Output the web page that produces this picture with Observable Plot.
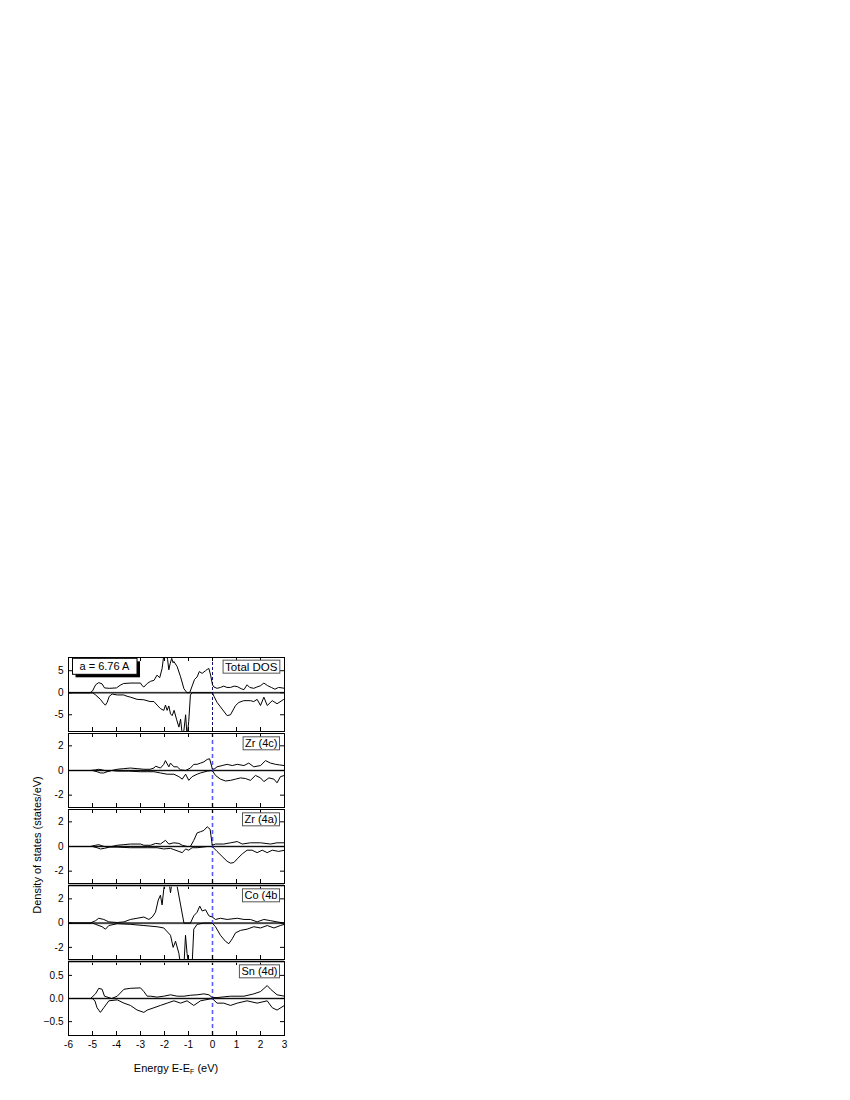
<!DOCTYPE html>
<html><head><meta charset="utf-8">
<script src="https://cdn.jsdelivr.net/npm/d3@7"></script>
<script src="https://cdn.jsdelivr.net/npm/@observablehq/plot@0.6"></script>
<style>
body{margin:0;background:#fff;font-family:"Liberation Sans",Arial,sans-serif;}
#chart{position:relative;width:850px;height:1100px;}
.panel{position:absolute;left:0;}
#ylab{position:absolute;left:37px;top:845px;transform:translate(-50%,-50%) rotate(-90deg);white-space:nowrap;font-size:11px;color:#000;}
#xlab{position:absolute;left:176px;top:1068px;transform:translate(-50%,-50%);white-space:nowrap;font-size:11px;color:#000;}
#xlab sub{font-size:7px;vertical-align:-2px;}
</style></head><body><div id="chart"></div><script>
// ---- data (energy in eV, DOS in states/eV) ----
const xTicks = [-6,-5,-4,-3,-2,-1,0,1,2,3];
const panelNames = ["Total DOS","Zr (4c)","Zr (4a)","Co (4b","Sn (4d)"];
const latticeNote = "a = 6.76 A";

const totalUp = [[-6,0],[-5.1,0],[-5.0,0.4],[-4.87,1.8],[-4.74,2.3],[-4.6,2.0],[-4.5,1.1],[-4.3,1.0],[-4.0,1.1],[-3.85,1.7],[-3.7,2.1],[-3.4,2.2],[-3.0,2.2],[-2.93,1.6],[-2.86,1.3],[-2.72,2.1],[-2.58,2.6],[-2.44,2.8],[-2.31,4.0],[-2.2,3.4],[-2.1,5.5],[-2.03,8.5],[-1.95,10],[-1.87,7.5],[-1.82,5.2],[-1.76,6.7],[-1.7,7.8],[-1.64,6.8],[-1.61,7.1],[-1.47,5.9],[-1.33,3.6],[-1.19,0.9],[-1.06,0],[-0.95,0],[-0.85,1.5],[-0.75,3.0],[-0.64,3.6],[-0.55,4.8],[-0.43,4.4],[-0.29,5.0],[-0.22,5.3],[-0.15,5.5],[-0.08,4.0],[0.0,1.8],[0.06,1.3],[0.19,1.0],[0.33,1.2],[0.47,1.5],[0.6,1.2],[0.75,1.2],[0.9,1.5],[1.03,1.4],[1.2,0.9],[1.31,0.7],[1.44,1.8],[1.55,1.2],[1.72,1.0],[1.85,1.3],[2.0,1.6],[2.14,2.2],[2.3,1.6],[2.45,1.2],[2.6,0.8],[2.75,1.2],[2.9,1.1],[3.0,1.0]];
const totalDown = [[-6,0],[-5.0,0],[-4.87,-0.5],[-4.67,-1.5],[-4.53,-2.5],[-4.46,-2.8],[-4.39,-2.2],[-4.3,-0.8],[-4.18,-0.3],[-3.97,-0.5],[-3.7,-0.5],[-3.56,-0.8],[-3.42,-1.0],[-3.14,-1.5],[-2.86,-1.6],[-2.6,-2.0],[-2.44,-2.0],[-2.31,-2.8],[-2.17,-3.6],[-2.03,-4.0],[-1.96,-2.8],[-1.89,-4.0],[-1.82,-3.0],[-1.75,-4.8],[-1.68,-5.2],[-1.6,-4.0],[-1.5,-6.0],[-1.4,-7.8],[-1.33,-6.0],[-1.26,-9.5],[-1.19,-8.5],[-1.12,-5.0],[-1.06,-10],[-0.99,-6.5],[-0.92,-0.5],[-0.85,0],[0.0,0],[0.06,-0.8],[0.19,-2.2],[0.4,-3.7],[0.61,-5.2],[0.75,-5.0],[0.96,-2.9],[1.1,-2.2],[1.3,-1.8],[1.58,-1.8],[1.72,-2.0],[1.86,-1.5],[2.0,-2.9],[2.14,-1.0],[2.28,-2.9],[2.49,-1.8],[2.69,-2.5],[2.97,-1.5],[3.0,-1.5]];

const zr4cUp = [[-6,0],[-5.1,0],[-4.87,0.05],[-4.74,0.1],[-4.6,0.05],[-4.4,-0.05],[-4.2,0.0],[-3.97,0.1],[-3.7,0.15],[-3.42,0.2],[-3.14,0.15],[-2.86,0.1],[-2.6,0.1],[-2.44,0.2],[-2.37,0.35],[-2.17,0.2],[-2.03,0.5],[-1.96,0.8],[-1.82,0.3],[-1.75,0.6],[-1.61,0.3],[-1.47,0.3],[-1.33,0.05],[-1.12,0.0],[-0.92,0.2],[-0.78,0.5],[-0.64,0.5],[-0.5,0.6],[-0.36,0.7],[-0.22,0.9],[-0.12,0.95],[-0.01,0.15],[0.06,0.1],[0.19,0.3],[0.4,0.4],[0.61,0.5],[0.82,0.4],[1.03,0.5],[1.31,0.4],[1.51,0.6],[1.72,0.3],[2.0,0.4],[2.21,0.8],[2.42,0.6],[2.63,0.5],[2.8,0.45],[3.0,0.4]];
const zr4cDown = [[-6,0],[-5.0,0],[-4.81,-0.1],[-4.67,-0.2],[-4.53,-0.2],[-4.39,-0.1],[-4.2,0.0],[-3.97,-0.05],[-3.5,-0.05],[-3.0,-0.1],[-2.72,-0.1],[-2.44,-0.1],[-2.17,-0.2],[-1.89,-0.3],[-1.61,-0.3],[-1.4,-0.5],[-1.26,-0.7],[-1.12,-0.3],[-0.99,-0.8],[-0.85,-0.5],[-0.64,-0.3],[-0.5,-0.2],[-0.22,-0.05],[-0.01,0],[0.125,-0.4],[0.33,-0.7],[0.54,-0.85],[0.75,-0.8],[0.96,-0.7],[1.17,-0.6],[1.375,-0.65],[1.58,-0.8],[1.79,-0.4],[2.0,-0.6],[2.14,-0.9],[2.35,-0.6],[2.56,-0.7],[2.69,-1.0],[2.83,-0.5],[3.0,-0.4]];

const zr4aUp = [[-6,0],[-5.1,0],[-4.87,0.1],[-4.74,0.15],[-4.6,0.05],[-4.4,-0.05],[-4.2,0.0],[-3.97,0.1],[-3.7,0.15],[-3.42,0.2],[-3.0,0.2],[-2.86,0.1],[-2.58,0.1],[-2.37,0.25],[-2.17,0.2],[-1.96,0.5],[-1.82,0.2],[-1.61,0.3],[-1.4,0.25],[-1.26,0.1],[-1.06,0.0],[-0.92,0.0],[-0.78,0.5],[-0.64,1.1],[-0.5,1.2],[-0.36,1.3],[-0.22,1.6],[-0.1,1.4],[-0.01,0.1],[0.125,0.2],[0.47,0.2],[0.75,0.3],[1.03,0.4],[1.24,0.2],[1.58,0.3],[2.0,0.3],[2.42,0.2],[2.69,0.3],[3.0,0.3]];
const zr4aDown = [[-6,0],[-5.0,0],[-4.81,-0.1],[-4.67,-0.2],[-4.5,-0.15],[-4.3,-0.05],[-3.97,-0.05],[-3.42,-0.1],[-2.72,-0.1],[-2.31,-0.1],[-2.03,-0.2],[-1.75,-0.15],[-1.61,-0.25],[-1.4,-0.4],[-1.26,-0.5],[-1.12,-0.2],[-0.99,-0.3],[-0.85,-0.1],[-0.64,-0.1],[-0.22,0],[-0.01,0],[0.19,-0.4],[0.4,-0.8],[0.61,-1.2],[0.75,-1.35],[0.89,-1.3],[1.03,-1.0],[1.24,-0.6],[1.44,-0.3],[1.65,-0.3],[1.86,-0.5],[2.07,-0.3],[2.28,-0.5],[2.49,-0.3],[2.76,-0.4],[3.0,-0.3]];

const co4bUp = [[-6,0],[-5.1,0],[-4.87,0.2],[-4.74,0.4],[-4.53,0.3],[-4.32,0.1],[-3.97,0.05],[-3.69,0.1],[-3.42,0.3],[-3.14,0.4],[-2.86,0.5],[-2.65,0.3],[-2.51,0.5],[-2.375,0.9],[-2.26,1.9],[-2.17,2.3],[-2.1,1.5],[-2.03,2.8],[-1.96,3.6],[-1.89,4.5],[-1.82,3.5],[-1.75,2.5],[-1.68,3.5],[-1.6,4.0],[-1.54,3.5],[-1.47,3.0],[-1.33,1.5],[-1.19,0],[-0.92,0],[-0.78,0.6],[-0.64,0.9],[-0.53,1.4],[-0.43,1.0],[-0.29,1.1],[-0.15,0.6],[-0.01,0.5],[0.125,0.3],[0.33,0.4],[0.61,0.3],[1.03,0.4],[1.31,0.3],[1.58,0.3],[1.86,0.1],[2.14,0.3],[2.42,0.2],[2.69,0.1],[3.0,0.0]];
const co4bDown = [[-6,0],[-5.0,0],[-4.875,-0.1],[-4.6,-0.3],[-4.46,-0.5],[-4.32,-0.2],[-3.97,-0.05],[-3.42,-0.1],[-2.86,-0.2],[-2.31,-0.3],[-2.03,-0.4],[-1.75,-1.0],[-1.64,-2.0],[-1.54,-1.5],[-1.4,-2.5],[-1.33,-3.5],[-1.19,-3.5],[-1.125,-1.0],[-1.06,-2.5],[-0.99,-3.5],[-0.85,-3.5],[-0.78,-0.5],[-0.64,-0.1],[-0.36,0],[-0.01,0],[0.125,-0.3],[0.33,-1.0],[0.54,-1.5],[0.68,-1.7],[0.82,-1.3],[0.96,-0.8],[1.17,-0.6],[1.44,-0.5],[1.72,-0.3],[2.0,-0.4],[2.28,-0.2],[2.56,-0.4],[2.83,-0.2],[3.0,-0.1]];

const sn4dUp = [[-6,0],[-5.08,0],[-4.875,0.1],[-4.74,0.22],[-4.6,0.2],[-4.5,0.05],[-4.2,0.0],[-3.97,0.05],[-3.69,0.2],[-3.42,0.22],[-3.0,0.23],[-2.86,0.15],[-2.72,0.05],[-2.58,0.05],[-2.31,0.03],[-2.03,0.05],[-1.75,0.08],[-1.47,0.05],[-1.19,0.05],[-0.92,0.07],[-0.64,0.08],[-0.36,0.1],[-0.15,0.08],[-0.01,0.02],[0.19,0.02],[0.75,0.05],[1.31,0.05],[1.72,0.1],[2.0,0.15],[2.28,0.28],[2.42,0.2],[2.69,0.08],[3.0,0.05]];
const sn4dDown = [[-6,0],[-5.01,0],[-4.9,-0.05],[-4.81,-0.2],[-4.67,-0.3],[-4.53,-0.2],[-4.32,-0.05],[-3.97,-0.03],[-3.69,-0.1],[-3.42,-0.15],[-3.14,-0.25],[-2.86,-0.3],[-2.72,-0.25],[-2.44,-0.2],[-2.17,-0.15],[-1.89,-0.1],[-1.61,-0.05],[-1.33,-0.1],[-1.06,-0.05],[-0.78,-0.15],[-0.5,-0.05],[-0.01,0.0],[0.19,-0.1],[0.47,-0.1],[0.75,-0.15],[1.03,-0.1],[1.44,-0.05],[1.86,-0.1],[2.28,-0.05],[2.49,-0.2],[2.69,-0.25],[3.0,-0.15]];

const yDomains = [[-8.8,8],[-3,3],[-3,3],[-3,3.1],[-0.8,0.8]];
const yTicks = [[-5,0,5],[-2,0,2],[-2,0,2],[-2,0,2],[-0.5,0,0.5]];
const upSeries = [totalUp, zr4cUp, zr4aUp, co4bUp, sn4dUp];
const downSeries = [totalDown, zr4cDown, zr4aDown, co4bDown, sn4dDown];

// ---- layout ----
const panelTops = [657,733,809,885,961];
const H = 74, W = 300, ML = 68, MR = 16;
const FW = W - ML - MR;
const chart = document.getElementById("chart");
const toObjs = arr => arr.map(([e,v]) => ({e, v}));
const NS = "http://www.w3.org/2000/svg";

panelNames.forEach((name, i) => {
  const last = i === panelNames.length - 1;
  const mt = 4, mb = last ? 26 : 4;
  const fmt = i === 4 ? d3.format(".1f") : (d => String(d));
  const marks = [
    Plot.ruleY([0], {stroke: "#999", strokeWidth: 2.2}),
    Plot.ruleY([0], {stroke: "#111", strokeWidth: 1}),
    Plot.ruleX([0], i === 0
      ? {stroke: "#10107a", strokeWidth: 1, strokeDasharray: "3,2"}
      : {stroke: "#5a5aff", strokeWidth: 1.6, strokeDasharray: "4,3"}),
    Plot.line(toObjs(downSeries[i]), {x: "e", y: "v", stroke: "black", strokeWidth: 1, clip: true}),
    Plot.line(toObjs(upSeries[i]), {x: "e", y: "v", stroke: "black", strokeWidth: 1, clip: true}),
    Plot.tickX(xTicks, {insetTop: H - 4, stroke: "black"}),
    Plot.tickX(xTicks, {insetBottom: H - 4, stroke: "black"}),
    Plot.tickY(yTicks[i], {insetRight: FW - 4, stroke: "black"}),
    Plot.tickY(yTicks[i], {insetLeft: FW - 4, stroke: "black"}),
    Plot.axisY({ticks: yTicks[i], tickSize: 0, tickPadding: 5, tickFormat: fmt, label: null}),
    Plot.text([name], {frameAnchor: "top-right", textAnchor: "end", lineAnchor: "top", dx: -7, dy: i === 0 ? 5 : 6, fontSize: i === 0 ? 11.5 : 11, fill: "black"}),
  ];
  if (i >= 3) marks.push(Plot.ruleY([yDomains[i][1]], {stroke: "#a0a0a0", strokeWidth: 2.5}));
  if (i === 0) marks.push(Plot.text([latticeNote], {frameAnchor: "top-left", textAnchor: "start", lineAnchor: "top", dx: 11, dy: 5, fontSize: 11, fill: "black"}));
  if (last) marks.push(Plot.axisX({ticks: xTicks, tickSize: 0, tickPadding: 5, tickFormat: d => String(d), label: null}));
  marks.push(Plot.frame({stroke: "black", strokeWidth: 1}));

  const svg = Plot.plot({
    width: W, height: H + mt + mb,
    marginLeft: ML, marginRight: MR, marginTop: mt, marginBottom: mb,
    x: {domain: [-6, 3], axis: last ? undefined : null},
    y: {domain: yDomains[i]},
    style: {fontFamily: "'Liberation Sans', Arial, sans-serif", fontSize: "10px", background: "transparent", overflow: "visible", color: "black"},
    marks
  });
  const wrap = document.createElement("div");
  wrap.className = "panel";
  wrap.style.top = (panelTops[i] - mt) + "px";
  wrap.appendChild(svg);
  chart.appendChild(wrap);

  // boxes behind the label texts
  svg.querySelectorAll('g[aria-label="text"] text').forEach(t => {
    const b = t.getBBox();
    const tr = t.getAttribute("transform");
    const isNote = t.textContent.startsWith("a =");
    const px = isNote ? 7 : 2, py = isNote ? 2 : 0.5;
    const mk = (off, fill, stroke) => {
      const r = document.createElementNS(NS, "rect");
      r.setAttribute("x", b.x - px + off);
      r.setAttribute("y", b.y - py + off);
      r.setAttribute("width", b.width + 2 * px);
      r.setAttribute("height", b.height + 2 * py);
      r.setAttribute("fill", fill);
      if (stroke) { r.setAttribute("stroke", stroke); r.setAttribute("stroke-width", 1); }
      if (tr) r.setAttribute("transform", tr);
      t.parentNode.insertBefore(r, t);
    };
    if (isNote) mk(3, "black", null);
    mk(0, "white", isNote ? "black" : "#555");
  });
});

const yl = document.createElement("div");
yl.id = "ylab"; yl.textContent = "Density of states (states/eV)";
chart.appendChild(yl);
const xl = document.createElement("div");
xl.id = "xlab"; xl.innerHTML = "Energy E-E<sub>F</sub> (eV)";
chart.appendChild(xl);
</script></body></html>
